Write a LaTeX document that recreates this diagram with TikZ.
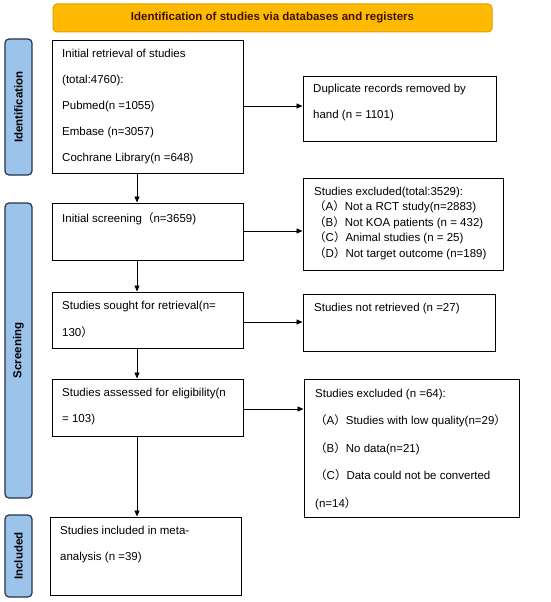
\documentclass[tikz,border=0pt]{standalone}
\usepackage{fontspec}
\setmainfont{Liberation Sans}
\newfontfamily\cjk{Noto Sans CJK SC}
\usetikzlibrary{arrows.meta}
\definecolor{bannerfill}{HTML}{FFB900}
\definecolor{bannerdraw}{HTML}{E0A000}
\definecolor{bannertext}{HTML}{3A1500}
\definecolor{sidefill}{HTML}{9CC3EA}
\definecolor{sidedraw}{HTML}{27324A}
\newcommand{\fl}{{\cjk （}}
\newcommand{\fr}{{\cjk ）}}
\tikzset{
  box/.style={draw=black, line width=1pt, inner sep=0pt},
  txt/.style={anchor=base west, align=left, inner sep=0pt, font=\fontsize{11.5}{26}\selectfont},
  side/.style={draw=sidedraw, fill=sidefill, line width=1.2pt, rounded corners=4pt, inner sep=0pt},
  sidetxt/.style={rotate=90, font=\bfseries\fontsize{11.5}{12}\selectfont, text=black},
  arr/.style={-{Triangle[length=6pt,width=5pt]}, line width=0.9pt},
}
\begin{document}
\begin{tikzpicture}[x=1pt,y=-1pt]
\useasboundingbox (0,0) rectangle (550,602);
% banner
\node[draw=bannerdraw, fill=bannerfill, line width=1pt, rounded corners=4pt, minimum width=439pt, minimum height=28pt, inner sep=0pt, font=\bfseries\fontsize{11.5}{12}\selectfont, text=bannertext] (banner) at (272.5,18) {Identification of studies via databases and registers};
% side labels
\node[side, minimum width=27pt, minimum height=136pt] (sid) at (18.5,107) {};
\node[sidetxt] (sidt) at (sid.center) {Identification};
\node[side, minimum width=27pt, minimum height=295pt] (ssc) at (18.5,350.5) {};
\node[sidetxt] (ssct) at (ssc.center) {Screening};
\node[side, minimum width=27pt, minimum height=82pt] (sin) at (18.5,556) {};
\node[sidetxt] (sint) at (sin.center) {Included};
% boxes
\node[box, minimum width=191pt, minimum height=132pt] (b1) at (147.5,107) {};
\node[txt] (t1) at (62,161) {Initial retrieval of studies\\(total:4760):\\Pubmed(n =1055)\\Embase (n=3057)\\Cochrane Library(n =648)};
\node[box, minimum width=193pt, minimum height=65pt] (b2) at (399.5,108.5) {};
\node[txt] (t2) at (313,118) {Duplicate records removed by\\hand (n = 1101)};
\node[box, minimum width=191pt, minimum height=57pt] (b3) at (147.5,231.5) {};
\node[txt] (t3) at (62,222) {Initial screening\fl n=3659)};
\node[box, minimum width=200pt, minimum height=92pt] (b4) at (403,224) {};
\node[txt, font=\fontsize{11.5}{15.5}\selectfont] (t4) at (314,257) {Studies excluded(total:3529):\\\fl A\fr Not a RCT study(n=2883)\\\fl B\fr Not KOA patients (n = 432)\\\fl C\fr Animal studies (n = 25)\\\fl D\fr Not target outcome (n=189)};
\node[box, minimum width=191pt, minimum height=56pt] (b5) at (147.5,320) {};
\node[txt, font=\fontsize{11.5}{27}\selectfont] (t5) at (62,336) {Studies sought for retrieval(n=\\130\fr};
\node[box, minimum width=192pt, minimum height=57pt] (b6) at (399,322.5) {};
\node[txt] (t6) at (314,311) {Studies not retrieved (n =27)};
\node[box, minimum width=191pt, minimum height=57pt] (b7) at (147.5,407.5) {};
\node[txt] (t7) at (62,422) {Studies assessed for eligibility(n\\= 103)};
\node[box, minimum width=215pt, minimum height=138pt] (b8) at (411.5,448) {};
\node[txt, font=\fontsize{11.5}{27.5}\selectfont] (t8) at (315,507) {Studies excluded (n =64):\\\fl A\fr Studies with low quality(n=29\fr\\\fl B\fr No data(n=21)\\\fl C\fr Data could not be converted\\(n=14\fr};
\node[box, minimum width=191pt, minimum height=78pt] (b9) at (145.5,556) {};
\node[txt] (t9) at (60,560) {Studies included in meta-\\analysis (n =39)};
% arrows
\draw[arr] (b1.east |- 0,106) -- (b2.west |- 0,106);
\draw[arr] (b1.south -| 137,0) -- (b3.north -| 137,0);
\draw[arr] (b3.east |- 0,231) -- (b4.west |- 0,231);
\draw[arr] (b3.south -| 137,0) -- (b5.north -| 137,0);
\draw[arr] (b5.east |- 0,322) -- (b6.west |- 0,322);
\draw[arr] (b5.south -| 137,0) -- (b7.north -| 137,0);
\draw[arr] (b7.east |- 0,409) -- (b8.west |- 0,409);
\draw[arr] (b7.south -| 137,0) -- (b9.north -| 137,0);
\end{tikzpicture}
\end{document}
